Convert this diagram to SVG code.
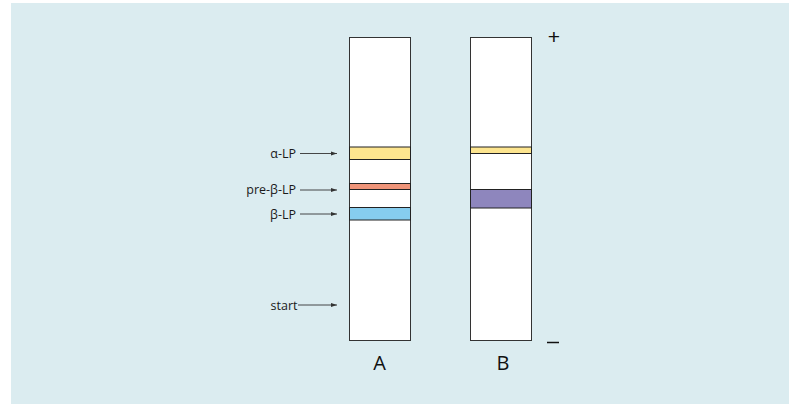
<svg xmlns="http://www.w3.org/2000/svg" width="805" height="404" viewBox="0 0 805 404">
<style>
.lbl{font-family:"Open Sans","Noto Sans","Liberation Sans",sans-serif;font-size:12.5px;fill:#1a1a1a}
.big{font-family:"Open Sans","Noto Sans","Liberation Sans",sans-serif;font-size:20px;fill:#111;text-anchor:middle}
.col{fill:#fff;stroke:#333;stroke-width:1}
.band{stroke:#222;stroke-width:1}
.arr{stroke:#333;stroke-width:0.9;fill:none;marker-end:url(#ah)}
</style>
<defs>
<marker id="ah" viewBox="0 0 10 10" refX="10" refY="5" markerWidth="6" markerHeight="6" markerUnits="userSpaceOnUse" orient="auto">
<path d="M0,1.5 L10,5 L0,8.5 z" fill="#333"/>
</marker>
</defs>
<rect x="11" y="3" width="778" height="401" fill="#dbecf0"/>
<g id="laneA">
<rect class="col" x="349.5" y="37.5" width="61" height="303"/>
<rect class="band" x="349.5" y="147" width="61" height="12.5" fill="#fde58f"/>
<rect class="band" x="349.5" y="183.5" width="61" height="6" fill="#ef9479"/>
<rect class="band" x="349.5" y="207.5" width="61" height="12.5" fill="#86cdef"/>
<text class="big" x="379.5" y="370">A</text>
</g>
<g id="laneB">
<rect class="col" x="470.5" y="37.5" width="61" height="303"/>
<rect class="band" x="470.5" y="147" width="61" height="6.5" fill="#fde58f"/>
<rect class="band" x="470.5" y="189.5" width="61" height="18.5" fill="#8e86bd"/>
<text class="big" x="503" y="370">B</text>
</g>
<g id="labels">
<text class="lbl" x="296" y="157.5" text-anchor="end">α-LP</text>
<text class="lbl" x="296" y="194" text-anchor="end">pre-β-LP</text>
<text class="lbl" x="296" y="218.5" text-anchor="end">β-LP</text>
<text class="lbl" x="297.5" y="310" text-anchor="end">start</text>
<text x="554" y="43.5" font-family="Liberation Sans,sans-serif" font-size="21" fill="#111" text-anchor="middle">+</text>
<line x1="547" y1="342.5" x2="559" y2="342.5" stroke="#111" stroke-width="1.5"/>
</g>
<g id="connectors">
<line class="arr" x1="300" y1="153.5" x2="337" y2="153.5"/>
<line class="arr" x1="300" y1="190" x2="337" y2="190"/>
<line class="arr" x1="300" y1="214" x2="337" y2="214"/>
<line class="arr" x1="298" y1="305" x2="337" y2="305"/>
</g>
</svg>
